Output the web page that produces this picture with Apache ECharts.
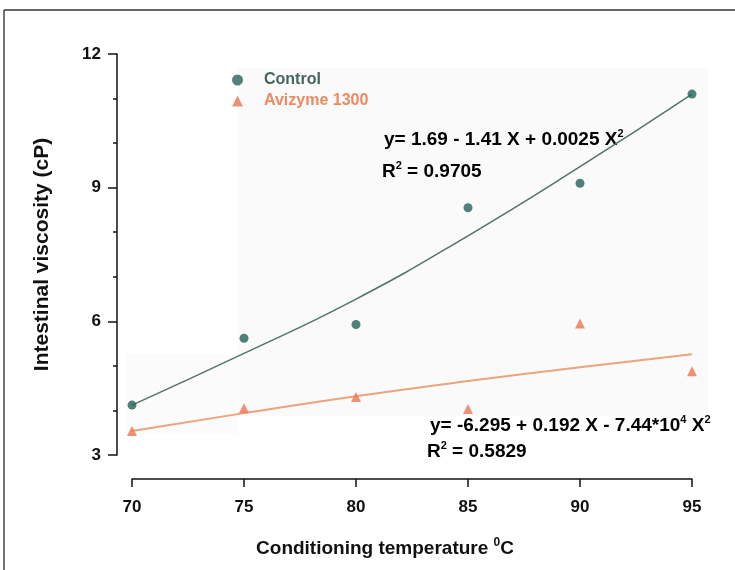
<!DOCTYPE html>
<html>
<head>
<meta charset="utf-8">
<script src="https://cdn.jsdelivr.net/npm/echarts@6/dist/echarts.min.js"></script>
<style>
  html, body { margin: 0; padding: 0; background: #fff; }
  #chart { width: 735px; height: 570px; }
</style>
</head>
<body>
<div id="chart"></div>
<script>
// temperatures (x) and measured viscosity
const temps = [70, 75, 80, 85, 90, 95]
const controlVals = [4.12, 5.62, 5.93, 8.55, 9.1, 11.1]
const avizymeVals = [3.54, 4.05, 4.3, 4.03, 5.95, 4.88]
// fitted curves
const controlFit = [4.12, 5.28, 6.5, 7.92, 9.47, 11.1]
const avizymeFit = [3.54, 3.94, 4.32, 4.66, 4.97, 5.26]

const font = 'Liberation Sans, Arial, sans-serif'
const pair = (xs, ys) => xs.map((x, i) => [x, ys[i]])

const chart = echarts.init(document.getElementById('chart'))

const eqRich = {
  a: { fontSize: 19, fontWeight: 'bold', fontFamily: font, color: '#111' },
  s: { fontSize: 11, fontWeight: 'bold', fontFamily: font, color: '#111', verticalAlign: 'top', padding: [0, 0, 12, 0] }
}

const option = {
  animation: false,
  grid: { left: 132, right: 43, top: 54, bottom: 115 },
  legend: {
    orient: 'vertical',
    left: 227,
    top: 67,
    itemWidth: 11,
    itemHeight: 11,
    itemGap: 5,
    textStyle: { fontFamily: font, fontSize: 16, fontWeight: 'bold', padding: [0, 0, 0, 16] },
    data: [
      { name: 'Control', icon: 'circle', textStyle: { color: '#456560' } },
      { name: 'Avizyme 1300', icon: 'triangle', textStyle: { color: '#ec8a62' } }
    ]
  },
  xAxis: {
    type: 'value',
    min: 70,
    max: 95,
    interval: 5,
    offset: 24,
    splitLine: { show: false },
    axisLine: { lineStyle: { color: '#111', width: 1.5 } },
    axisTick: { inside: false, length: 8, lineStyle: { color: '#111', width: 1.5 } },
    axisLabel: { margin: 20, fontFamily: font, fontSize: 17, fontWeight: 'bold', color: '#111' },
    name: 'Conditioning temperature {s|0}C',
    nameLocation: 'middle',
    nameGap: 58,
    nameTextStyle: {
      fontFamily: font, fontSize: 19, fontWeight: 'bold', color: '#111',
      padding: [0, 54, 0, 0],
      rich: { s: { fontSize: 12, fontWeight: 'bold', fontFamily: font, color: '#111', verticalAlign: 'top', padding: [0, 0, 12, 0] } }
    }
  },
  yAxis: {
    type: 'value',
    min: 3,
    max: 12,
    interval: 3,
    offset: 15,
    splitLine: { show: false },
    axisLine: { show: true, lineStyle: { color: '#111', width: 1.5 } },
    axisTick: { show: true, length: 9, lineStyle: { color: '#111', width: 1.5 } },
    minorTick: { show: true, splitNumber: 3, length: 4, lineStyle: { color: '#111', width: 1.5 } },
    axisLabel: { margin: 16, fontFamily: font, fontSize: 17, fontWeight: 'bold', color: '#111' },
    name: 'Intestinal viscosity (cP)',
    nameLocation: 'middle',
    nameGap: 64,
    nameTextStyle: { fontFamily: font, fontSize: 21, fontWeight: 'bold', color: '#111' }
  },
  graphic: [
    // scan frame
    { type: 'line', shape: { x1: 4, y1: 10, x2: 735, y2: 10 }, style: { stroke: '#333', lineWidth: 1.5 } },
    { type: 'line', shape: { x1: 4, y1: 10, x2: 4, y2: 570 }, style: { stroke: '#444', lineWidth: 1.5 } },
    // faint scan shading
    { type: 'rect', z: -10, shape: { x: 238, y: 68, width: 470, height: 348 }, style: { fill: '#fafafa' } },
    { type: 'rect', z: -10, shape: { x: 126, y: 355, width: 112, height: 80 }, style: { fill: '#fbfbfb' } },
    {
      type: 'text', left: 384, top: 128,
      style: { text: '{a|y= 1.69 - 1.41 X + 0.0025 X}{s|2}', rich: eqRich }
    },
    {
      type: 'text', left: 382, top: 160,
      style: { text: '{a|R}{s|2}{a| = 0.9705}', rich: eqRich }
    },
    {
      type: 'text', left: 430, top: 414,
      style: { text: '{a|y= -6.295 + 0.192 X - 7.44*10}{s|4}{a| X}{s|2}', rich: eqRich }
    },
    {
      type: 'text', left: 427, top: 440,
      style: { text: '{a|R}{s|2}{a| = 0.5829}', rich: eqRich }
    }
  ],
  series: [
    {
      name: 'Control fit',
      type: 'line',
      smooth: true,
      showSymbol: false,
      data: pair(temps, controlFit),
      lineStyle: { color: '#56716c', width: 1.5 },
      z: 3
    },
    {
      name: 'Avizyme fit',
      type: 'line',
      smooth: true,
      showSymbol: false,
      data: pair(temps, avizymeFit),
      lineStyle: { color: '#eba47c', width: 2 },
      z: 3
    },
    {
      name: 'Control',
      type: 'scatter',
      symbol: 'circle',
      symbolSize: 9,
      data: pair(temps, controlVals),
      itemStyle: { color: '#22635a' },
      z: 4
    },
    {
      name: 'Avizyme 1300',
      type: 'scatter',
      symbol: 'triangle',
      symbolSize: 10,
      data: pair(temps, avizymeVals),
      itemStyle: { color: '#ec7553' },
      z: 4
    }
  ]
}

chart.setOption(option)
</script>
</body>
</html>
